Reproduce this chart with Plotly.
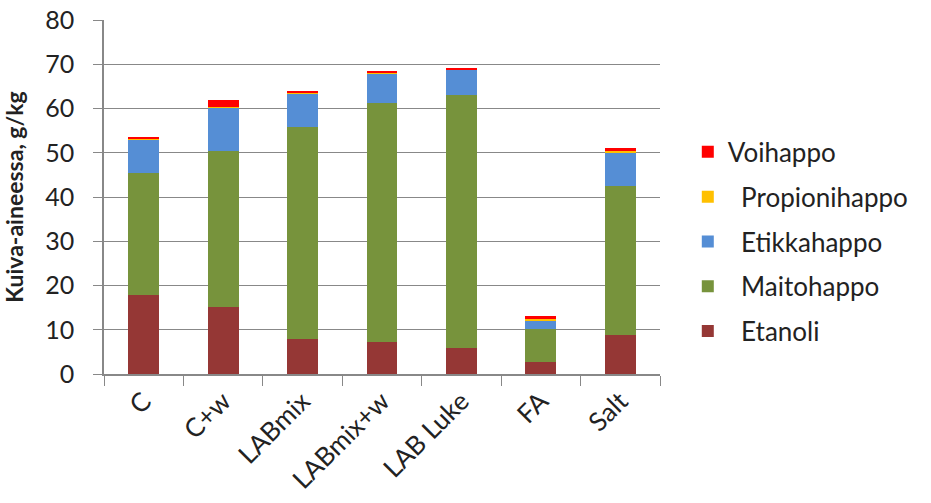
import plotly.graph_objects as go

categories = ["C", "C+w", "LABmix", "LABmix+w", "LAB Luke", "FA", "Salt"]
etanoli = [17.8, 15.1, 7.8, 7.2, 5.8, 2.8, 8.9]
maitohappo = [27.6, 35.2, 48.0, 54.0, 57.3, 7.4, 33.6]
etikkahappo = [7.4, 9.9, 7.5, 6.8, 5.7, 1.9, 7.6]
propionihappo = [0.5, 0.1, 0.1, 0.1, 0.1, 0.3, 0.4]
voihappo = [0.2, 1.6, 0.5, 0.3, 0.3, 0.6, 0.5]

series = [
    ("Etanoli", etanoli, "#953735"),
    ("Maitohappo", maitohappo, "#77933C"),
    ("Etikkahappo", etikkahappo, "#558ED5"),
    ("Propionihappo", propionihappo, "#FFC000"),
    ("Voihappo", voihappo, "#FF0000"),
]

fig = go.Figure()
n = len(series)
for i, (name, vals, col) in enumerate(series):
    label = name if name == "Voihappo" else "\u00a0\u00a0" + name
    fig.add_trace(go.Bar(
        x=categories, y=vals, name=label, marker_color=col,
        marker_line_width=0, legendgroup=name, legendrank=n - i,
    ))

font_family = "Lato, Open Sans, sans-serif"
fig.update_layout(
    barmode="stack",
    bargap=0.61,
    width=931, height=503,
    margin=dict(l=104, r=271, t=20, b=129, autoexpand=False),
    plot_bgcolor="white", paper_bgcolor="white",
    font=dict(family=font_family, size=25, color="#222222"),
    legend=dict(
        traceorder="grouped", tracegroupgap=8,
        x=1.05, xanchor="left", y=0.373, yanchor="middle",
        font=dict(size=26), itemwidth=30,
    ),
    xaxis=dict(
        showline=True, linecolor="#888888", linewidth=1.5,
        ticks="outside", tickcolor="#888888", ticklen=10,
        tickson="boundaries", tickangle=-45,
        tickfont=dict(size=26), automargin=False,
    ),
    yaxis=dict(
        range=[0, 80], dtick=10, showgrid=True, gridcolor="#888888", gridwidth=1.3,
        showline=True, linecolor="#888888", linewidth=1.5,
        ticks="outside", tickcolor="#888888", ticklen=9, ticklabelstandoff=14,
        ticklabeloverflow="allow",
        tickfont=dict(size=25), zeroline=False, automargin=False,
        title=dict(text="<b>Kuiva-aineessa, g/kg</b>", font=dict(size=23)),
    ),
)

fig.write_html(
    "out.html",
    config={"displayModeBar": False},
    post_script="document.body.style.margin='0';document.body.style.overflow='hidden';",
)
